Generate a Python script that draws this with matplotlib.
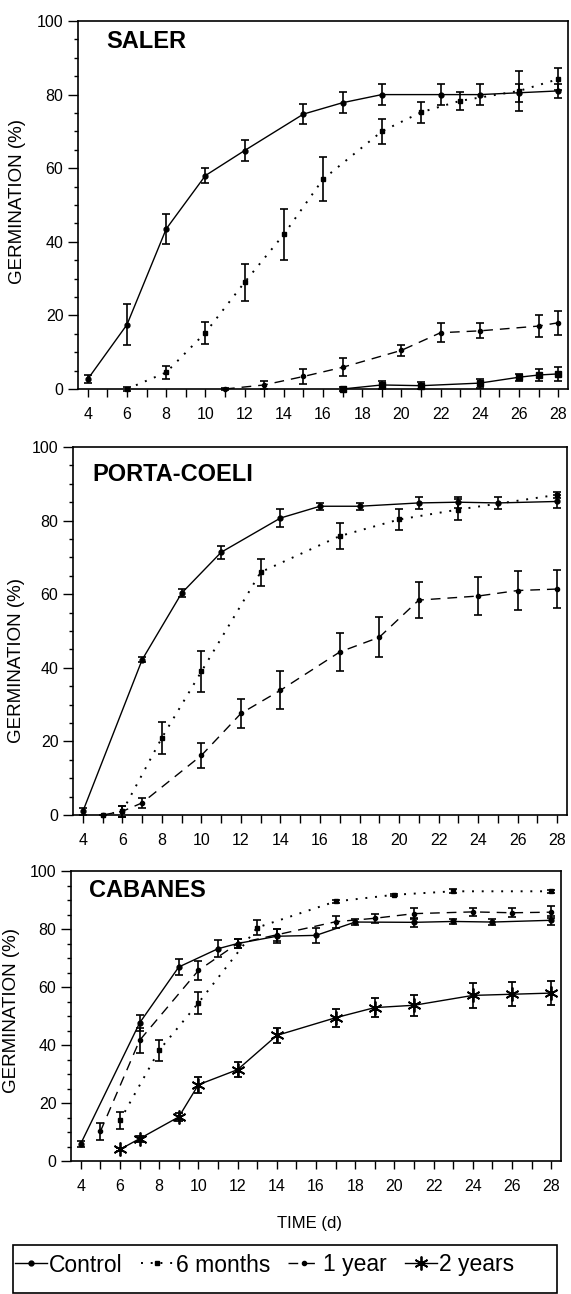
import numpy as np
import matplotlib
matplotlib.use("Agg")
import matplotlib.pyplot as plt
from matplotlib.lines import Line2D
from matplotlib.patches import Rectangle
from matplotlib.ticker import MultipleLocator

plt.rcParams['font.family'] = ['Liberation Sans', 'DejaVu Sans']

# ---- SALER ----
saler_control_days = [4, 6, 8, 10, 12, 15, 17, 19, 22, 24, 26, 28]
saler_control_mean = [2.7, 17.5, 43.5, 58, 64.8, 74.7, 77.8, 80, 80, 80, 80.5, 81]
saler_control_err = [1, 5.5, 4, 2, 2.8, 2.7, 2.9, 2.8, 2.8, 2.8, 2.5, 2]

saler_6m_days = [6, 8, 10, 12, 14, 16, 19, 21, 23, 26, 28]
saler_6m_mean = [0, 4.5, 15.3, 29, 42, 57, 70, 75.2, 78.3, 81, 84.2]
saler_6m_err = [0.5, 1.8, 3, 5, 7, 6, 3.5, 2.9, 2.4, 5.5, 3]

saler_1y_days = [11, 13, 15, 17, 20, 22, 24, 27, 28]
saler_1y_mean = [0, 1.1, 3.4, 5.9, 10.5, 15.3, 15.8, 17.1, 18]
saler_1y_err = [0.3, 1.2, 2, 2.5, 1.5, 2.5, 2, 3, 3.3]

saler_2y_days = [17, 19, 21, 24, 26, 27, 28]
saler_2y_mean = [0, 1.1, 0.9, 1.6, 3.2, 3.8, 4.1]
saler_2y_err = [0.5, 1, 1, 1.2, 1, 1.5, 2]

# ---- PORTA-COELI ----
porta_control_days = [4, 7, 9, 11, 14, 16, 18, 21, 23, 25, 28]
porta_control_mean = [1, 42.2, 60.3, 71.4, 80.7, 83.9, 83.9, 84.8, 85, 84.8, 85.2]
porta_control_err = [1, 0.7, 1, 1.8, 2.5, 1, 1, 1.6, 1.5, 1.6, 1.7]

porta_6m_days = [5, 6, 8, 10, 13, 17, 20, 23, 28]
porta_6m_mean = [0, 1, 21, 39, 66, 75.8, 80.3, 83, 87]
porta_6m_err = [0, 1.5, 4.4, 5.7, 3.7, 3.6, 2.9, 2.8, 0.8]

porta_1y_days = [5, 6, 7, 10, 12, 14, 17, 19, 21, 24, 26, 28]
porta_1y_mean = [0, 1, 3.3, 16.2, 27.6, 33.9, 44.3, 48.3, 58.4, 59.5, 61, 61.4]
porta_1y_err = [0, 1.5, 1.4, 3.4, 4, 5.1, 5.1, 5.4, 5, 5.2, 5.2, 5.2]

# ---- CABANES ----
cab_control_days = [4, 7, 9, 11, 12, 14, 16, 18, 21, 23, 25, 28]
cab_control_mean = [6, 47.6, 66.9, 73.2, 75, 77.5, 77.8, 82.4, 82.3, 82.6, 82.4, 83]
cab_control_err = [1, 2.8, 2.9, 2.9, 1.5, 2.4, 2.5, 1, 1.5, 1, 1, 1.5]

cab_6m_days = [6, 8, 10, 13, 17, 20, 23, 28]
cab_6m_mean = [14, 38.2, 54.5, 80.5, 89.5, 91.8, 93, 93]
cab_6m_err = [2.9, 3.6, 3.7, 2.7, 0.5, 0.4, 0.7, 0.6]

cab_1y_days = [5, 7, 10, 12, 14, 17, 19, 21, 24, 26, 28]
cab_1y_mean = [10.2, 41.6, 65.7, 75, 78, 82.5, 83.7, 85.3, 85.9, 85.6, 85.8]
cab_1y_err = [2.8, 4.3, 3.4, 1.5, 2, 2, 1.5, 2, 1.5, 1.5, 2]

cab_2y_days = [6, 7, 9, 10, 12, 14, 17, 19, 21, 24, 26, 28]
cab_2y_mean = [4, 7.7, 15.2, 26.3, 31.5, 43.3, 49.4, 52.9, 53.7, 57.1, 57.5, 57.9]
cab_2y_err = [0.5, 1, 1.3, 2.7, 2.7, 2.7, 3.1, 3.4, 3.7, 4.3, 4.1, 4.2]

series_labels = ['Control', '6 months', '1 year', '2 years']

asterisk = (6, 2, 0)
styles = {
    'control': dict(ls='-', lw=1.0, marker='o', ms=3.5),
    '6m': dict(ls=(0, (1, 4)), lw=1.4, marker='s', ms=3),
    '1y': dict(ls=(0, (7, 5)), lw=1.0, marker='o', ms=3),
    '2y': dict(ls='-', lw=1.0, marker=asterisk, ms=10, mew=1.3),
    '2y_sq': dict(ls='-', lw=1.0, marker='s', ms=5),
}


def draw(ax, days, mean, err, key):
    ax.errorbar(days, mean, yerr=err, color='black', capsize=3, elinewidth=1.2,
                capthick=1.2, clip_on=False, **styles[key])


def style_axes(ax, title, tx, ty, ylab_x, ylab_y):
    ax.set_xlim(3.5, 28.5)
    ax.set_ylim(0, 100)
    ax.set_xticks(range(4, 29))
    ax.set_xticklabels([str(d) if d % 2 == 0 else '' for d in range(4, 29)])
    ax.yaxis.set_major_locator(MultipleLocator(20))
    ax.yaxis.set_minor_locator(MultipleLocator(5))
    ax.tick_params(axis='x', direction='out', length=6, width=1, pad=7, labelsize=11.5)
    ax.tick_params(axis='y', which='major', direction='out', length=7, width=1, labelsize=11.5)
    ax.tick_params(axis='y', which='minor', direction='out', length=3, width=1)
    for s in ax.spines.values():
        s.set_linewidth(1.2)
    ax.set_ylabel('GERMINATION (%)', fontsize=13.5)
    ax.yaxis.set_label_coords(ylab_x, ylab_y)
    ax.text(tx, ty, title, transform=ax.transAxes, fontsize=17, fontweight='bold',
            va='baseline', ha='left')


W, H = 571, 1294
fig = plt.figure(figsize=(W / 100, H / 100), dpi=100)

ax1 = fig.add_axes([78 / W, 1 - 389 / H, 490 / W, 368 / H])
ax2 = fig.add_axes([73 / W, 1 - 815 / H, 494 / W, 368 / H])
ax3 = fig.add_axes([71 / W, 1 - 1161 / H, 490 / W, 290 / H])

draw(ax1, saler_control_days, saler_control_mean, saler_control_err, 'control')
draw(ax1, saler_6m_days, saler_6m_mean, saler_6m_err, '6m')
draw(ax1, saler_1y_days, saler_1y_mean, saler_1y_err, '1y')
draw(ax1, saler_2y_days, saler_2y_mean, saler_2y_err, '2y_sq')
style_axes(ax1, 'SALER', 0.057, 0.927, -0.106, 0.51)

draw(ax2, porta_control_days, porta_control_mean, porta_control_err, 'control')
draw(ax2, porta_6m_days, porta_6m_mean, porta_6m_err, '6m')
draw(ax2, porta_1y_days, porta_1y_mean, porta_1y_err, '1y')
style_axes(ax2, 'PORTA-COELI', 0.04, 0.908, -0.097, 0.42)

draw(ax3, cab_control_days, cab_control_mean, cab_control_err, 'control')
draw(ax3, cab_6m_days, cab_6m_mean, cab_6m_err, '6m')
draw(ax3, cab_1y_days, cab_1y_mean, cab_1y_err, '1y')
draw(ax3, cab_2y_days, cab_2y_mean, cab_2y_err, '2y')
style_axes(ax3, 'CABANES', 0.037, 0.91, -0.104, 0.52)
ax3.set_xlabel('TIME (d)', fontsize=12, labelpad=14)
ax3.xaxis.set_label_coords(0.486, -0.19)

# legend: entries left-aligned inside a wide box
handles = [Line2D([], [], color='black', **styles[k]) for k in ['control', '6m', '1y', '2y']]
leg = fig.legend(handles, series_labels, loc='center left', ncol=4,
                 bbox_to_anchor=(15 / W, 1 - 1265 / H), fontsize=16.5, frameon=False,
                 borderpad=0, borderaxespad=0, handlelength=1.4, handletextpad=0.1,
                 columnspacing=0.8)
fig.add_artist(Rectangle((13 / W, 1 - 1293 / H), 544 / W, 48 / H, transform=fig.transFigure,
                         fill=False, lw=1.2, ec='black'))

fig.savefig('out.png', dpi=100)
